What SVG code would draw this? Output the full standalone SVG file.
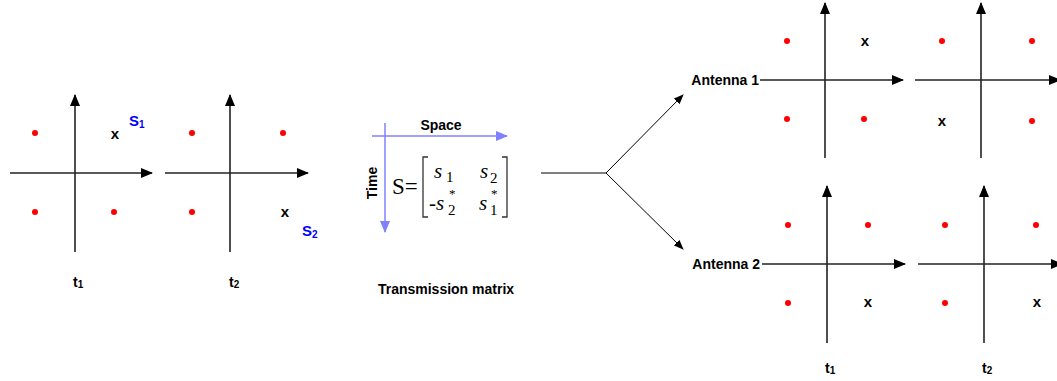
<svg xmlns="http://www.w3.org/2000/svg" width="1057" height="381" viewBox="0 0 1057 381">
<defs>
<marker id="ah" markerWidth="12" markerHeight="10" refX="11" refY="5" orient="auto" markerUnits="userSpaceOnUse"><path d="M0,0 L12,5 L0,10 Z" fill="#000"/></marker>
<marker id="ahs" markerWidth="10" markerHeight="8" refX="9" refY="4" orient="auto" markerUnits="userSpaceOnUse"><path d="M0,0 L10,4 L0,8 Z" fill="#000"/></marker>
<marker id="ahb" markerWidth="12" markerHeight="10" refX="11" refY="5" orient="auto" markerUnits="userSpaceOnUse"><path d="M0,0 L12,5 L0,10 Z" fill="#8080ff"/></marker>
<style>
.ax{stroke:#222;stroke-width:1.6;fill:none}
.dot{fill:#ff0000}
.x{font-family:"Liberation Sans",Arial,sans-serif;font-weight:bold;font-size:15px;fill:#000;text-anchor:middle}
.lb{font-family:"Liberation Sans",Arial,sans-serif;font-weight:bold;font-size:14px;fill:#000}
.s{font-family:"Liberation Sans",Arial,sans-serif;font-weight:bold;font-size:15px;fill:#0000ff}
.m{font-family:"Liberation Serif","Times New Roman",serif;font-size:23px;fill:#000}
.mi{font-family:"Liberation Serif","Times New Roman",serif;font-style:italic;font-size:21px;fill:#000}
.sub{font-family:"Liberation Serif","Times New Roman",serif;font-size:15px;fill:#000}
.ast{font-family:"Liberation Serif","Times New Roman",serif;font-size:13px;fill:#000}
</style>
</defs>
<g id="plot-t1">
<line class="ax" x1="10" y1="173" x2="152" y2="173" marker-end="url(#ah)"/>
<line class="ax" x1="75" y1="252" x2="75" y2="95" marker-end="url(#ah)"/>
<circle class="dot" cx="35" cy="133" r="3"/><circle class="dot" cx="35" cy="212" r="3"/><circle class="dot" cx="114" cy="212" r="3"/>
<text class="x" x="115" y="139">x</text>
<text class="s" x="129" y="126">S<tspan font-size="10" dy="2">1</tspan></text>
<text class="lb" x="73" y="287">t<tspan font-size="10" dy="1">1</tspan></text>
</g>
<g id="plot-t2">
<line class="ax" x1="165" y1="173" x2="308" y2="173" marker-end="url(#ah)"/>
<line class="ax" x1="230" y1="252" x2="230" y2="95" marker-end="url(#ah)"/>
<circle class="dot" cx="192" cy="133" r="3"/><circle class="dot" cx="283" cy="133" r="3"/><circle class="dot" cx="192" cy="212" r="3"/>
<text class="x" x="285" y="217">x</text>
<text class="s" x="302" y="236">S<tspan font-size="10" dy="2">2</tspan></text>
<text class="lb" x="229" y="287">t<tspan font-size="10" dy="1">2</tspan></text>
</g>
<g id="matrix">
<line x1="372" y1="136" x2="507" y2="136" stroke="#8080ff" stroke-width="1.5" marker-end="url(#ahb)"/>
<line x1="385" y1="123" x2="385" y2="232" stroke="#8080ff" stroke-width="1.5" marker-end="url(#ahb)"/>
<text class="lb" x="441" y="130" text-anchor="middle">Space</text>
<text class="lb" x="0" y="0" text-anchor="middle" transform="translate(377,183) rotate(-90)">Time</text>
<text class="m" x="392" y="194">S=</text>
<path d="M428,157 L423,157 L423,217 L428,217" stroke="#333" stroke-width="1.3" fill="none"/>
<path d="M502,157 L507,157 L507,217 L502,217" stroke="#333" stroke-width="1.3" fill="none"/>
<text class="mi" x="434" y="178">s</text><text class="sub" x="446" y="182">1</text>
<text class="mi" x="480" y="178">s</text><text class="sub" x="490" y="183">2</text>
<text class="mi" x="429" y="210"><tspan font-style="normal">-</tspan>s</text><text class="sub" x="448" y="215">2</text><text class="ast" x="449" y="198">*</text>
<text class="mi" x="479" y="210">s</text><text class="sub" x="490" y="215">1</text><text class="ast" x="491" y="198">*</text>
<text class="lb" x="446" y="294" text-anchor="middle" font-size="14.8">Transmission matrix</text>
</g>
<g id="connectors">
<line x1="541" y1="173" x2="606" y2="173" stroke="#555" stroke-width="1.3"/>
<line x1="606" y1="173" x2="683" y2="95" stroke="#000" stroke-width="1" marker-end="url(#ahs)"/>
<line x1="606" y1="173" x2="683" y2="249" stroke="#000" stroke-width="1" marker-end="url(#ahs)"/>
</g>
<g id="antenna1-t1">
<text class="lb" x="759" y="85" text-anchor="end">Antenna 1</text>
<line class="ax" x1="760" y1="80" x2="903" y2="80" marker-end="url(#ah)"/>
<line class="ax" x1="825" y1="158" x2="825" y2="3" marker-end="url(#ah)"/>
<circle class="dot" cx="787" cy="41" r="3"/><circle class="dot" cx="787" cy="119" r="3"/><circle class="dot" cx="864" cy="119" r="3"/>
<text class="x" x="865" y="46">x</text>
</g>
<g id="antenna1-t2">
<line class="ax" x1="915" y1="80" x2="1060" y2="80" marker-end="url(#ah)"/>
<line class="ax" x1="981" y1="158" x2="981" y2="3" marker-end="url(#ah)"/>
<circle class="dot" cx="942" cy="41" r="3"/><circle class="dot" cx="1032" cy="41" r="3"/><circle class="dot" cx="1032" cy="121" r="3"/>
<text class="x" x="942" y="126">x</text>
</g>
<g id="antenna2-t1">
<text class="lb" x="760" y="269" text-anchor="end">Antenna 2</text>
<line class="ax" x1="762" y1="264" x2="905" y2="264" marker-end="url(#ah)"/>
<line class="ax" x1="827" y1="343" x2="827" y2="186" marker-end="url(#ah)"/>
<circle class="dot" cx="788" cy="225" r="3"/><circle class="dot" cx="868" cy="225" r="3"/><circle class="dot" cx="788" cy="303" r="3"/>
<text class="x" x="868" y="307">x</text>
<text class="lb" x="825" y="373">t<tspan font-size="10" dy="1">1</tspan></text>
</g>
<g id="antenna2-t2">
<line class="ax" x1="918" y1="264" x2="1062" y2="264" marker-end="url(#ah)"/>
<line class="ax" x1="984" y1="343" x2="984" y2="186" marker-end="url(#ah)"/>
<circle class="dot" cx="945" cy="225" r="3"/><circle class="dot" cx="1036" cy="225" r="3"/><circle class="dot" cx="945" cy="303" r="3"/>
<text class="x" x="1037" y="307">x</text>
<text class="lb" x="982" y="373">t<tspan font-size="10" dy="1">2</tspan></text>
</g>
</svg>
